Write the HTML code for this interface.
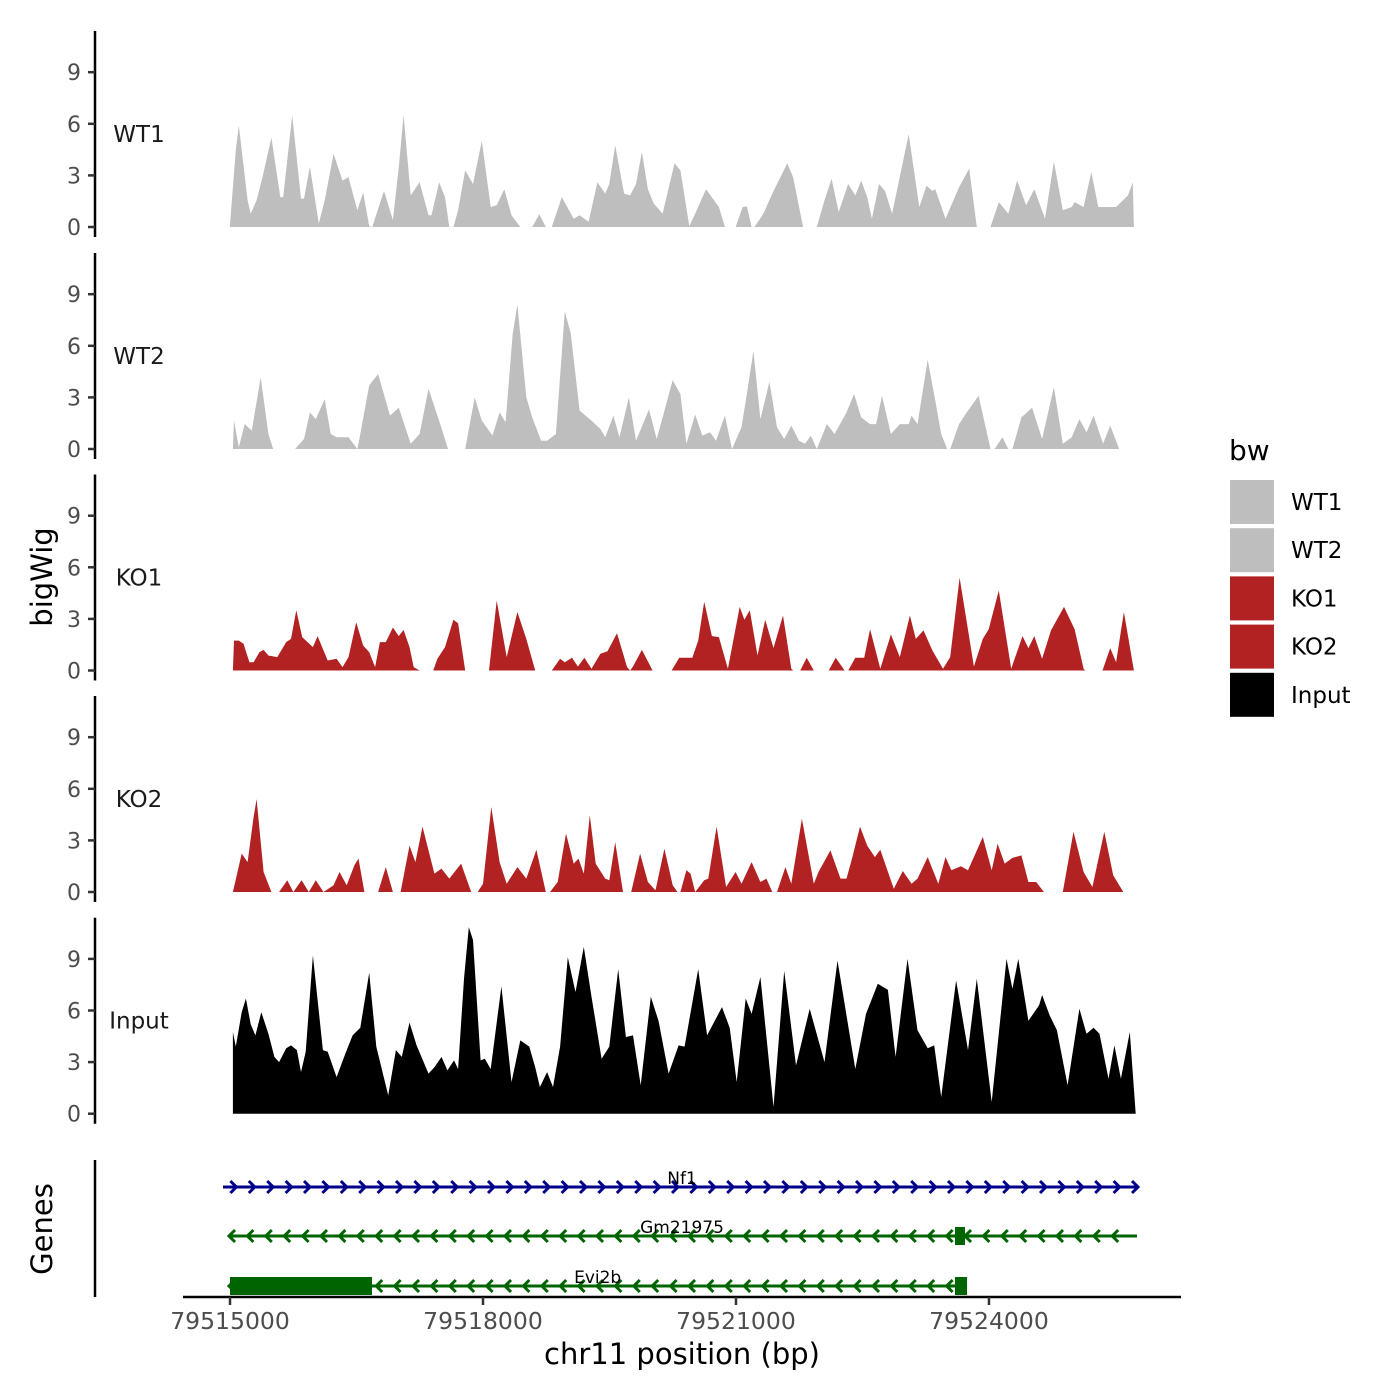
<!DOCTYPE html>
<html><head><meta charset="utf-8"><style>
html,body{margin:0;padding:0;background:#fff;}
svg{display:block;font-family:"DejaVu Sans","Liberation Sans",sans-serif;}
</style></head><body>
<svg id="chart" width="1400" height="1400" viewBox="0 0 1400 1400" xmlns="http://www.w3.org/2000/svg">
<rect width="1400" height="1400" fill="#fff"/>
<g id="panels"></g>
<g id="genes"></g>
<g id="xaxis"></g>
<text x="682" y="1364" font-size="29" text-anchor="middle" fill="#000">chr11 position (bp)</text>
<text transform="translate(52,577) rotate(-90)" font-size="29" text-anchor="middle" fill="#000">bigWig</text>
<text transform="translate(52,1229) rotate(-90)" font-size="29" text-anchor="middle" fill="#000">Genes</text>
<g id="legend"></g>
</svg>
<script>
const NS="http://www.w3.org/2000/svg";
const xStart=79515000;
const xTicks=[79515000,79518000,79521000,79524000];
const yTicks=[0,3,6,9];
const sampleNames=["WT1","WT2","KO1","KO2","Input"];
const sampleColors=["#bebebe","#bebebe","#b22222","#b22222","#000000"];
const wt1Pos=[-2,69,104,209,245,315,385,491,596,631,737,842,877,948,1053,1123,1229,1334,1405,1510,1580,1651,1686,1826,1932,2002,2058,2143,2248,2354,2389,2480,2550,2600,2620,2649,2705,2789,2881,2986,3092,3162,3253,3338,3443,3500,3584,3668,3745,3780,3816,3935,4076,4146,4252,4357,4449,4498,4568,4673,4744,4814,4884,4955,5025,5130,5271,5341,5447,5517,5644,5798,5869,5930,5995,6080,6129,6185,6220,6325,6431,6607,6677,6796,6880,6958,7050,7134,7218,7331,7415,7485,7556,7612,7696,7767,7851,8048,8174,8259,8329,8364,8484,8645,8765,8856,8940,9018,9116,9229,9334,9440,9538,9665,9770,9876,9981,10016,10122,10213,10297,10508,10649,10705,10719];
const wt1Val=[0,4.46,5.9,1.55,0.78,1.55,2.9,5.2,1.74,1.74,6.5,1.65,1.65,3.5,0.2,1.55,4.26,2.7,2.9,0.97,2.0,0.05,0,2.1,0.4,3.5,6.5,1.84,2.6,0.68,0.68,2.6,1.74,0,null,0,0.97,3.3,2.5,5.0,1.16,1.26,2.2,0.68,0,null,0,0.74,0,null,0,1.74,0.48,0.68,0.3,2.6,1.94,2.5,4.75,1.94,1.84,2.5,4.36,2.2,1.36,0.78,3.7,3.3,0.05,0.78,2.2,1.16,0,null,0,1.16,1.2,0,0,0.78,1.94,3.7,2.9,0,null,0,1.55,2.8,0.87,2.5,1.84,2.7,1.74,0.48,2.5,2.1,0.78,5.4,1.16,2.4,2.1,2.2,0.48,2.3,3.4,0,null,0,1.45,0.78,2.7,1.26,2.2,0.48,3.8,0.97,1.16,1.45,1.16,3.2,1.16,1.16,1.84,2.6,0];
const wt2Pos=[34,48,104,174,259,364,455,512,640,772,877,948,1018,1123,1194,1264,1405,1510,1545,1651,1756,1897,2002,2143,2248,2354,2480,2585,2690,2789,2902,2986,3113,3197,3268,3352,3408,3514,3584,3689,3760,3865,3970,4041,4146,4287,4392,4449,4547,4617,4730,4814,4969,5060,5250,5341,5412,5517,5601,5693,5763,5869,5953,6065,6136,6206,6290,6396,6487,6572,6656,6747,6818,6888,6958,7078,7169,7310,7401,7485,7591,7661,7731,7837,7943,8048,8083,8153,8273,8364,8434,8505,8540,8645,8737,8877,9018,9040,9067,9159,9229,9250,9278,9384,9511,9630,9770,9876,9981,10072,10157,10241,10353,10438,10544];
const wt2Val=[0,1.65,0.1,1.45,1.07,4.17,0.87,0,null,0,0.58,2.13,1.74,2.9,0.87,0.68,0.68,0,0.87,3.7,4.36,1.94,2.4,0.3,0.87,3.5,1.65,0,null,0,3.0,1.65,0.78,2.13,1.55,6.7,8.4,3.0,1.84,0.48,0.48,0.87,8.0,6.7,2.23,1.65,1.16,0.68,1.94,0.68,3.0,0.48,2.3,0.58,4.0,3.2,0.3,2.0,0.78,0.97,0.48,1.94,0,1.26,3.4,5.7,1.74,3.9,1.26,0.58,1.36,0.48,0.3,0.78,0,1.45,0.87,2.13,3.2,1.84,1.45,1.45,3.1,0.87,1.45,1.45,1.94,1.45,5.2,2.8,0.87,0,0,1.45,2.13,3.1,0,null,0,0.68,0,null,0,1.84,2.4,0.58,3.6,0.3,0.68,1.74,0.97,1.94,0.3,1.36,0];
const ko1Pos=[34,48,104,160,230,280,350,399,455,561,666,723,786,856,983,1039,1158,1264,1334,1405,1496,1580,1651,1721,1777,1847,1932,2002,2058,2129,2178,2248,2330,2410,2459,2550,2649,2705,2789,2930,3071,3162,3281,3408,3514,3619,3720,3816,3914,3970,4055,4125,4202,4287,4392,4477,4589,4709,4744,4779,4884,5011,5120,5236,5327,5482,5552,5623,5714,5798,5904,6044,6100,6164,6255,6347,6445,6557,6656,6677,6720,6761,6839,6923,7010,7099,7183,7288,7331,7415,7520,7591,7711,7837,7943,8062,8132,8224,8329,8455,8540,8652,8821,8927,8997,9116,9264,9398,9468,9538,9630,9735,9890,10016,10122,10140,10230,10346,10438,10508,10600,10719];
const ko1Val=[0,1.74,1.74,1.55,0.48,0.48,1.07,1.2,0.87,0.78,1.65,1.84,3.5,1.94,1.36,2.0,0.58,0.68,0.2,0.78,2.8,1.45,1.07,0.2,1.65,1.65,2.5,2.0,2.36,1.36,0.2,0,null,0,0.68,1.36,2.95,2.75,0,null,0,4.07,0.78,3.4,1.84,0,null,0,0.68,0.48,0.74,0.23,0.74,0.1,0.97,1.12,2.17,0.2,0,0.23,1.2,0,null,0,0.74,0.74,1.74,4.0,2.0,1.94,0.1,3.7,2.95,3.5,0.87,2.95,1.3,3.2,0.1,0,null,0,0.74,0,null,0,0.74,0,0,0.74,0.74,2.4,0.1,2.1,0.78,3.2,1.84,2.33,1.16,0.1,0.78,5.4,0.23,1.84,2.4,4.65,0.1,2.0,1.3,2.0,0.68,2.33,3.7,2.4,0.1,0,null,0,1.3,0.48,3.4,0];
const ko2Pos=[34,139,209,280,315,399,491,540,582,680,751,849,934,1018,1109,1229,1299,1384,1475,1524,1594,1680,1756,1847,1932,1980,2023,2129,2199,2283,2424,2508,2600,2740,2832,2860,2900,2937,3000,3099,3197,3281,3408,3514,3633,3745,3770,3795,3886,3984,4076,4132,4195,4266,4336,4449,4498,4568,4660,4710,4758,4863,4955,5046,5151,5250,5306,5320,5341,5412,5461,5517,5623,5672,5770,5883,5995,6065,6185,6290,6361,6431,6487,6586,6656,6782,6923,6979,7120,7240,7310,7380,7471,7556,7647,7711,7872,7978,8083,8153,8273,8399,8484,8554,8666,8751,8927,9032,9102,9187,9278,9384,9468,9560,9651,9760,9876,10002,10122,10227,10368,10473,10593];
const ko2Val=[0,2.23,1.74,4.36,5.4,1.16,0,null,0,0.68,0,0.68,0,0.68,0,0.39,1.16,0.39,1.55,1.94,0,null,0,1.45,0,null,0,2.7,1.74,3.8,1.07,1.36,0.78,1.65,0.39,0,null,0,0.48,4.94,1.74,0.48,1.45,0.78,2.46,0,null,0,0.58,3.4,1.65,1.94,1.07,4.46,1.65,0.78,0.68,2.9,0,null,0,2.23,0.58,0.1,2.52,0.39,0,null,0,1.26,1.07,0,0.68,0.78,3.8,0.29,1.16,0.48,1.74,0.58,0.78,0,0,1.45,0.48,4.26,0.48,1.16,2.42,0.78,0.78,2.03,3.8,2.7,2.03,2.46,0.19,1.22,0.48,0.78,2.03,0.48,2.03,1.26,1.5,1.26,3.2,1.26,2.8,1.65,1.98,2.13,0.58,0.58,0,null,0,3.5,1.16,0.29,3.5,0.97,0];
const inputPos=[34,69,139,188,245,301,371,455,526,582,666,723,793,842,898,983,1102,1158,1264,1369,1454,1545,1651,1735,1876,1967,2037,2129,2213,2354,2424,2508,2578,2656,2705,2775,2832,2881,2972,3021,3092,3218,3338,3443,3549,3619,3675,3760,3830,3914,4006,4097,4195,4287,4406,4498,4603,4695,4779,4870,4990,5081,5201,5320,5391,5552,5658,5834,5925,6009,6115,6185,6290,6445,6572,6712,6874,7050,7204,7415,7542,7682,7801,7893,8034,8153,8273,8350,8434,8610,8751,8856,9032,9208,9278,9348,9468,9595,9630,9721,9805,9932,10072,10157,10241,10311,10417,10487,10565,10670,10740];
const inputVal=[4.75,3.9,5.9,6.7,5.2,4.55,5.9,4.65,3.3,3.0,3.8,3.97,3.7,2.42,3.6,9.2,3.7,3.6,2.13,3.5,4.55,5.0,8.2,3.9,1.07,3.7,3.3,5.3,3.97,2.33,2.7,3.3,2.52,3.1,2.6,7.85,10.85,10.1,3.1,3.2,2.6,7.4,1.84,4.26,3.9,2.7,1.55,2.42,1.55,3.9,9.1,7.07,9.7,6.8,3.2,3.9,8.4,4.46,4.55,1.65,6.8,5.4,2.33,3.97,3.9,8.4,4.55,6.2,5.0,1.84,6.7,5.8,7.95,0.39,8.3,2.8,6.1,3.0,8.9,2.6,5.8,7.55,7.2,3.3,9.0,4.85,3.8,3.97,0.97,7.75,3.7,7.85,0.68,9.0,7.27,9.0,5.4,6.3,6.9,5.7,4.85,1.65,6.1,4.65,5.0,4.65,2.03,3.97,2.03,4.75,0];
const seriesPos=[wt1Pos,wt2Pos,ko1Pos,ko2Pos,inputPos];
const seriesVal=[wt1Val,wt2Val,ko1Val,ko2Val,inputVal];
// genes
const geneNames=["Nf1","Gm21975","Evi2b"];
const geneStarts=[-83,0,0];
const geneEnds=[10755,10755,8740];
const geneStrand=["+","-","-"];
const geneColors=["#00008b","#006400","#006400"];
const exonGene=[1,2,2];
const exonStart=[8597,0,8597];
const exonEnd=[8716,1684,8740];
const geneLabelPos=[5360,5360,4360];

const svg=document.getElementById('chart');
function el(tag,attrs,parent){const e=document.createElementNS(NS,tag);for(const k in attrs)e.setAttribute(k,attrs[k]);(parent||svg).appendChild(e);return e;}
function xs(bp){return 230+bp*0.08433;}
const panelZero=[227,449,670.5,892,1113.7];
const unit=17.2;
function ys(p,v){return panelZero[p]-v*unit;}

const panels=document.getElementById('panels');
for(let p=0;p<5;p++){
  const g=el('g',{},panels);
  
  
  const top=panelZero[p]-196,bot=panelZero[p]+10;
  const ax=el('line',{x1:95,x2:95,y1:top,y2:bot,stroke:'#000','stroke-width':2.5},g);
  
  
  yTicks.forEach(t=>{
    const tk=el('line',{x1:88,x2:95,y1:ys(p,t),y2:ys(p,t),stroke:'#333','stroke-width':2.5},g);
    
    
    const tl=el('text',{x:81,y:ys(p,t)+8,'font-size':22,'text-anchor':'end',fill:'#4d4d4d'},g);
    tl.textContent=t;
    
    
  });
  const lb=el('text',{x:139,y:panelZero[p]-85,'font-size':23,'text-anchor':'middle',fill:'#1a1a1a'},g);
  lb.textContent=sampleNames[p];
  
  
  const pos=seriesPos[p],val=seriesVal[p];
  let d='',seg=[];
  function flush(){ if(seg.length){ d+='M'+xs(seg[0][0]).toFixed(1)+','+ys(p,0);
      seg.forEach(q=>{d+='L'+xs(q[0]).toFixed(1)+','+ys(p,q[1]).toFixed(1);});
      d+='L'+xs(seg[seg.length-1][0]).toFixed(1)+','+ys(p,0)+'Z';} seg=[]; }
  for(let i=0;i<pos.length;i++){ if(val[i]===null){flush();} else seg.push([pos[i],val[i]]); }
  flush();
  const ar=el('path',{d:d,fill:sampleColors[p],stroke:'none'},g);
  
  
}

// genes
const gg=document.getElementById('genes');
const gax=el('line',{x1:95,x2:95,y1:1160,y2:1297,stroke:'#000','stroke-width':2.5},gg);


const geneY=[1187,1236,1286];
for(let i=0;i<3;i++){
  const g=el('g',{},gg);
  
  
  const y=geneY[i],c=geneColors[i],x1=xs(geneStarts[i]),x2=xs(geneEnds[i]);
  el('line',{x1:x1,x2:x2,y1:y,y2:y,stroke:c,'stroke-width':3},g);
  let cd='';
  if(geneStrand[i]=='+'){
    for(let x=x2;x>=x1-1;x-=18.4) cd+=`M${(x-5).toFixed(1)},${y-6}L${(x+1).toFixed(1)},${y}L${(x-5).toFixed(1)},${y+6}`;
  } else {
    for(let x=x1;x<=x2-12;x+=18.4) cd+=`M${(x+5).toFixed(1)},${y-6}L${(x-1).toFixed(1)},${y}L${(x+5).toFixed(1)},${y+6}`;
  }
  el('path',{d:cd,stroke:c,'stroke-width':3,fill:'none'},g);
  const lt=el('text',{x:xs(geneLabelPos[i]),y:y-3,'font-size':17,'text-anchor':'middle',fill:'#000'},g);
  lt.textContent=geneNames[i];
  
  
}
for(let k=0;k<exonGene.length;k++){
  const y=geneY[exonGene[k]];
  const r=el('rect',{x:xs(exonStart[k]),y:y-9,width:xs(exonEnd[k])-xs(exonStart[k]),height:18,fill:'#006400'},gg);
  
  
}

// x axis
const xa=document.getElementById('xaxis');
el('line',{x1:183,x2:1181,y1:1297,y2:1297,stroke:'#000','stroke-width':2.5},xa);
xTicks.forEach(t=>{
  const x=xs(t-xStart);
  const tk=el('line',{x1:x,x2:x,y1:1297,y2:1305,stroke:'#333','stroke-width':2.5},xa);
  
  
  const tl=el('text',{x:x,y:1329,'font-size':23.5,'text-anchor':'middle',fill:'#4d4d4d'},xa);
  tl.textContent=t;
  
  
});

// legend
const lg=document.getElementById('legend');
const lt=el('text',{x:1229,y:460,'font-size':28,fill:'#000'},lg);
lt.textContent='bw';


sampleNames.forEach((n,i)=>{
  const g=el('g',{},lg);
  
  
  el('rect',{x:1230,y:480+i*48.2,width:44,height:44,fill:sampleColors[i]},g);
  const t=el('text',{x:1291,y:510+i*48.2,'font-size':23,fill:'#000'},g);
  t.textContent=n;
});
</script>
</body></html>
